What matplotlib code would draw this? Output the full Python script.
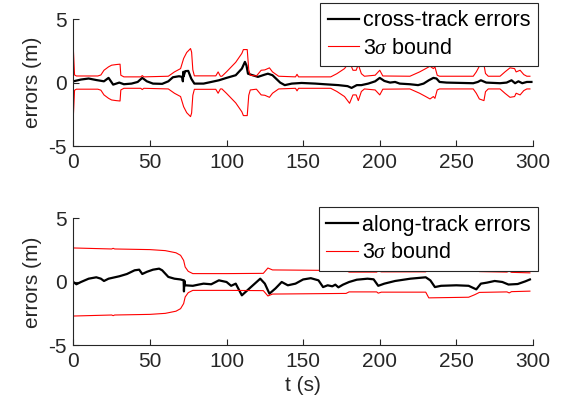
import matplotlib
matplotlib.use('Agg')
import matplotlib.pyplot as plt
import numpy as np

plt.rcParams['font.family'] = ['Liberation Sans', 'DejaVu Sans']
plt.rcParams['mathtext.fontset'] = 'custom'
plt.rcParams['mathtext.it'] = 'Liberation Serif:italic'
plt.rcParams['axes.unicode_minus'] = False

# cross-track errors (top panel)
t_ct = [0, 5, 10, 15, 20, 23, 26, 30, 33, 38, 42, 45, 48, 52, 58, 62, 65, 69, 71,
        71.5, 71.8, 72, 73, 75, 77, 79, 85, 90, 95, 100, 106, 110, 112, 113, 114,
        117, 120.5, 125, 127, 130, 135, 138, 142.6, 149, 158, 164, 173, 179, 181.6,
        185, 188, 192.5, 197, 200, 203, 206.7, 210, 213, 219.7, 225, 228.6, 232,
        235, 237, 239, 243.6, 261, 264, 266, 269.5, 278.5, 282.8, 286, 288.3,
        290.5, 293, 296, 299]
ct_err = [0.1, 0.24, 0.32, 0.2, 0.1, 0.37, -0.16, 0.0, -0.13, -0.08, 0.05, 0.37, 0.1,
          -0.08, -0.1, 0.1, 0.42, 0.5, 0.45, 0.1, 0.85, 0.5, 0.9, 0.92, 0.3, -0.08,
          -0.08, 0.05, 0.18, 0.37, 0.58, 1.1, 1.63, 1.35, 0.7, 0.58, 0.45, 0.63, 0.7,
          0.58, 0.0, -0.2, -0.08, -0.03, -0.08, -0.13, -0.2, -0.28, -0.42, -0.2, -0.2,
          -0.08, 0.1, 0.37, 0.13, 0.0, 0.05, -0.08, -0.13, -0.2, -0.08, 0.18, 0.37,
          0.32, 0.05, 0.0, -0.05, 0.05, 0.18, 0.0, -0.05, 0.0, 0.18, -0.05, 0.1,
          -0.05, 0.05, 0.05]

t_ct_sig = [0, 0.8, 2, 16, 18, 20, 23, 25, 28, 30.5, 31, 33, 44, 45, 46, 62, 66, 70,
            72, 74, 76.5, 77.2, 78, 79, 93, 94.5, 96, 97, 100, 106, 110, 111, 113.5,
            114.5, 115.5, 119.5, 122.6, 125, 128, 130, 134, 145, 146, 147, 168, 172,
            177, 180.3, 182.5, 184.6, 186, 188, 190, 197, 200, 202, 219.7, 226, 230,
            232.8, 235, 236, 237.5, 239, 261, 263, 265, 268, 269, 270.8, 278.5, 281.7,
            285, 288, 289, 291.6, 294, 296, 298]
ct_sig = [2.7, 0.6, 0.52, 0.52, 0.6, 0.97, 1.24, 1.37, 1.42, 1.45, 0.58, 0.45, 0.45,
          0.55, 0.45, 0.5, 0.84, 1.1, 1.9, 2.37, 2.68, 2.4, 1.0, 0.53, 0.53, 0.84, 0.5,
          0.5, 0.85, 1.6, 2.3, 2.6, 2.6, 1.0, 0.58, 0.52, 0.97, 1.0, 1.16, 0.84, 0.5,
          0.45, 0.65, 0.45, 0.45, 0.7, 1.1, 1.63, 0.97, 0.97, 1.42, 0.7, 0.5, 0.58,
          0.97, 0.52, 0.5, 0.84, 1.1, 1.29, 1.1, 1.24, 0.58, 0.5, 0.5, 0.84, 1.29,
          1.42, 0.72, 0.5, 0.5, 0.84, 1.16, 1.1, 0.84, 0.97, 0.63, 0.5, 0.5]

# along-track errors (bottom panel)
t_at = [0, 2, 5, 10, 15, 18, 20, 23, 30, 35, 40, 43, 45, 48, 52, 56, 58, 62, 66, 70,
        72, 72.2, 72.5, 73, 78, 82, 85, 90, 95, 100, 103, 106, 110, 115, 122, 125,
        128, 132, 136, 140, 145, 150, 155, 160, 163, 166, 169, 171, 173, 176, 180,
        185, 192, 196, 199, 203, 210, 220, 230, 233, 236, 240, 250, 258, 263, 266,
        270, 275, 280, 284, 290, 295, 298]
at_err = [0.0, -0.18, 0.0, 0.26, 0.37, 0.26, 0.08, 0.26, 0.45, 0.63, 0.92, 0.97, 0.63,
          0.8, 0.97, 1.05, 0.92, 0.4, 0.26, 0.2, 0.13, -0.74, 0.1, -0.26, -0.3, -0.2,
          -0.13, -0.18, 0.13, 0.0, -0.3, -0.13, -1.05, -0.5, 0.26, -0.13, -0.92, -0.5,
          0.0, -0.26, -0.13, 0.2, 0.3, 0.13, -0.4, -0.26, -0.34, -0.21, -0.42, -0.21,
          0.0, 0.18, 0.26, 0.21, -0.3, -0.13, 0.08, 0.26, 0.37, 0.13, -0.4, -0.3,
          -0.26, -0.3, -0.58, -0.13, -0.05, 0.08, 0.0, -0.2, -0.16, 0.05, 0.2]

t_at_sig = [0, 25, 26, 27, 50, 60, 67, 70, 72, 73, 75, 78, 100, 124, 127, 130, 150,
            178, 180, 198, 199, 201, 230, 232, 258, 262, 265, 283, 284.5, 286, 298]
at_sig = [2.68, 2.6, 2.65, 2.6, 2.55, 2.47, 2.3, 2.1, 1.7, 1.18, 0.84, 0.66, 0.66,
          0.68, 1.1, 0.95, 0.93, 0.9, 0.78, 0.78, 0.88, 0.8, 0.8, 1.25, 1.2, 1.0,
          0.82, 0.78, 0.86, 0.76, 0.72]

panels = [
    (t_ct, ct_err, t_ct_sig, ct_sig, 'cross-track errors'),
    (t_at, at_err, t_at_sig, at_sig, 'along-track errors'),
]

axcol = (0.15, 0.15, 0.15)
fs = 15
fig = plt.figure(figsize=(5.64, 4.15), dpi=100)
ax_boxes = [[0.130, 0.648, 0.815, 0.306], [0.130, 0.1675, 0.815, 0.306]]
leg_tops = [0.993, 0.501]

for i, (t, err, ts, sig, name) in enumerate(panels):
    ax = fig.add_axes(ax_boxes[i])
    sig = np.array(sig)
    ax.plot(t, err, color='black', linewidth=1.6, label=name)
    ax.plot(ts, sig, color='red', linewidth=0.8, label=r'3$\sigma$ bound')
    ax.plot(ts, -sig, color='red', linewidth=0.8)
    ax.set_xlim(0, 300)
    ax.set_ylim(-5, 5)
    ax.set_xticks(np.arange(0, 301, 50))
    ax.set_yticks([-5, 0, 5])
    ax.spines['top'].set_visible(False)
    ax.spines['right'].set_visible(False)
    for s in ['left', 'bottom']:
        ax.spines[s].set_color(axcol)
        ax.spines[s].set_linewidth(0.8)
    ax.tick_params(direction='in', length=4, colors=axcol, labelsize=fs, pad=5)
    ax.set_ylabel('errors (m)', fontsize=fs, color=axcol, labelpad=4)
    if i == 1:
        ax.set_xlabel('t (s)', fontsize=fs, color=axcol, labelpad=3)
    leg = ax.legend(loc='upper right', bbox_to_anchor=(0.954, leg_tops[i]),
                    bbox_transform=fig.transFigure, fontsize=15.5, fancybox=False,
                    framealpha=1, edgecolor=axcol, handlelength=1.45,
                    handletextpad=0.2, borderpad=0.35, labelspacing=0.3,
                    borderaxespad=0)
    leg.get_frame().set_linewidth(0.8)

plt.savefig('out.png', dpi=100)
